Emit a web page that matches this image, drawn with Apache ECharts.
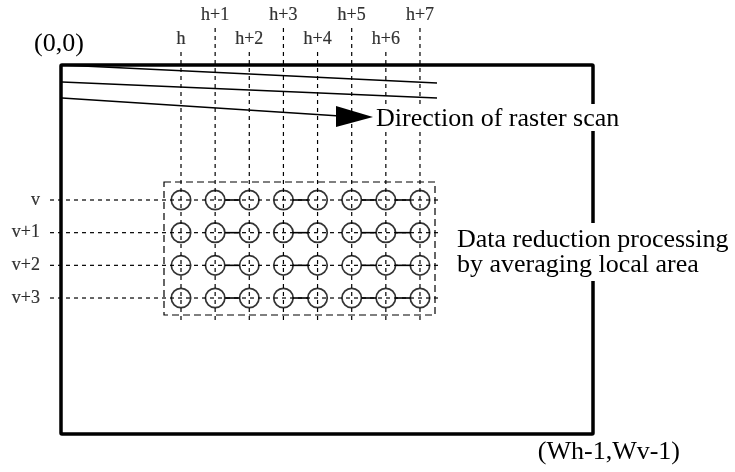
<!DOCTYPE html>
<html><head><meta charset="utf-8">
<script src="https://cdn.jsdelivr.net/npm/echarts@6/dist/echarts.min.js"></script>
<style>html,body{margin:0;padding:0;background:#fff}#c{width:735px;height:472px}</style>
</head><body><div id="c"></div>
<script>
// ---- data ----
const colLabels = ['h', 'h+1', 'h+2', 'h+3', 'h+4', 'h+5', 'h+6', 'h+7'];
const rowLabels = ['v', 'v+1', 'v+2', 'v+3'];
const solidLinks = [[1, 2], [3, 4], [5, 6], [6, 7]];   // column pairs joined by a solid line in each row
const scanText = 'Direction of raster scan';
const noteLines = ['Data reduction processing', 'by averaging local area'];
const originLabel = '(0,0)';
const endLabel = '(Wh-1,Wv-1)';

// ---- layout ----
const W = 735, H = 472;
const X0 = 181, XS = 34.14;   // pixel of column 0, pixels per column
const Y0 = 200, YS = 32.67;   // pixel of row 0, pixels per row
const FONT = '"Liberation Serif", "Times New Roman", serif';
const L = {
  colTopOdd: -5.265, colTopEven: -4.53, colBottom: 3.734,
  colLabelOdd: -5.663, colLabelEven: -4.928,
  rowLeft: -3.837, rowRight: 7.616, rowLabelX: -4.13,
  boxL: -0.498, boxR: 7.44, boxT: -0.551, boxB: 3.52,
  r: 9.7
};

const cells = [];
rowLabels.forEach((r, j) => colLabels.forEach((c, i) => cells.push([i, j])));
const links = [];
rowLabels.forEach((r, j) => solidLinks.forEach(p => links.push([p[0], p[1], j])));

const dash = { stroke: '#000', lineWidth: 1.2, lineDash: [4, 4] };
const bigText = (t, x, y, align) => ({
  type: 'text', z: 20, x: x, y: y,
  style: { text: t, font: '26px ' + FONT, fill: '#000',
    textAlign: align || 'left', textVerticalAlign: 'middle' }
});
const mask = (x, y, w, h) => ({ type: 'rect', z: 19, shape: { x: x, y: y, width: w, height: h }, style: { fill: '#fff' } });

const chart = echarts.init(document.getElementById('c'), null, { renderer: 'canvas' });
chart.setOption({
  backgroundColor: '#fff',
  animation: false,
  grid: { left: 0, right: 0, top: 0, bottom: 0 },
  xAxis: { type: 'value', min: -X0 / XS, max: (W - X0) / XS, show: false },
  yAxis: { type: 'value', inverse: true, min: -Y0 / YS, max: (H - Y0) / YS, show: false },
  graphic: [
    { type: 'rect', z: 1, shape: { x: 61, y: 65, width: 532, height: 369, r: 1 },
      style: { fill: 'transparent', stroke: '#000', lineWidth: 3.5 } },
    { type: 'line', z: 1, shape: { x1: 62, y1: 65, x2: 437, y2: 83 }, style: { stroke: '#000', lineWidth: 1.5 } },
    { type: 'line', z: 1, shape: { x1: 62, y1: 82, x2: 437, y2: 98 }, style: { stroke: '#000', lineWidth: 1.5 } },
    { type: 'line', z: 1, shape: { x1: 62, y1: 98, x2: 340, y2: 116 }, style: { stroke: '#000', lineWidth: 1.5 } },
    { type: 'polygon', z: 1, shape: { points: [[336, 106], [373, 117], [336, 127]] }, style: { fill: '#000' } },
    mask(374, 104, 256, 27),
    mask(455, 223, 280, 58),
    bigText(scanText, 376, 119),
    bigText(noteLines[0], 457, 240),
    bigText(noteLines[1], 457, 265),
    bigText(originLabel, 34, 44),
    bigText(endLabel, 680, 452, 'right')
  ],
  series: [
    { // vertical dashed guide lines
      type: 'custom', silent: true, data: colLabels.map((c, i) => [i]),
      renderItem: (p, api) => {
        const i = api.value(0);
        const a = api.coord([i, i % 2 ? L.colTopOdd : L.colTopEven]);
        const b = api.coord([i, L.colBottom]);
        return { type: 'line', shape: { x1: a[0], y1: a[1], x2: b[0], y2: b[1] }, style: dash };
      }
    },
    { // horizontal dashed guide lines
      type: 'custom', silent: true, data: rowLabels.map((r, j) => [j]),
      renderItem: (p, api) => {
        const j = api.value(0);
        const a = api.coord([L.rowLeft, j]);
        const b = api.coord([L.rowRight, j]);
        return { type: 'line', shape: { x1: a[0], y1: a[1], x2: b[0], y2: b[1] }, style: dash };
      }
    },
    { // dashed local area box
      type: 'custom', silent: true, data: [[0]],
      renderItem: (p, api) => {
        const a = api.coord([L.boxL, L.boxT]);
        const b = api.coord([L.boxR, L.boxB]);
        return { type: 'rect', shape: { x: a[0], y: a[1], width: b[0] - a[0], height: b[1] - a[1] },
          style: { fill: 'transparent', stroke: '#000', lineWidth: 1.2, lineDash: [7, 4] } };
      }
    },
    { // solid links between paired pixels
      type: 'custom', silent: true, data: links,
      renderItem: (p, api) => {
        const a = api.coord([api.value(0), api.value(2)]);
        const b = api.coord([api.value(1), api.value(2)]);
        return { type: 'line', shape: { x1: a[0] + L.r, y1: a[1], x2: b[0] - L.r, y2: b[1] },
          style: { stroke: '#000', lineWidth: 1.6 } };
      }
    },
    { // pixel circles
      type: 'scatter', silent: true, data: cells, symbol: 'circle', symbolSize: L.r * 2,
      itemStyle: { color: 'rgba(0,0,0,0)', borderColor: '#000', borderWidth: 1.7 }
    },
    { // column labels
      type: 'scatter', silent: true, symbolSize: 0,
      data: colLabels.map((c, i) => ({ name: c, value: [i, i % 2 ? L.colLabelOdd : L.colLabelEven] })),
      label: { show: true, position: 'inside', formatter: '{b}', fontSize: 18, fontFamily: FONT,
        color: '#000', textBorderWidth: 0.2, textBorderColor: '#000' }
    },
    { // row labels
      type: 'scatter', silent: true, symbolSize: 0,
      data: rowLabels.map((r, j) => ({ name: r, value: [L.rowLabelX, j] })),
      label: { show: true, position: 'inside', align: 'right', formatter: '{b}', fontSize: 18, fontFamily: FONT,
        color: '#000', textBorderWidth: 0.2, textBorderColor: '#000' }
    }
  ]
});
</script></body></html>
